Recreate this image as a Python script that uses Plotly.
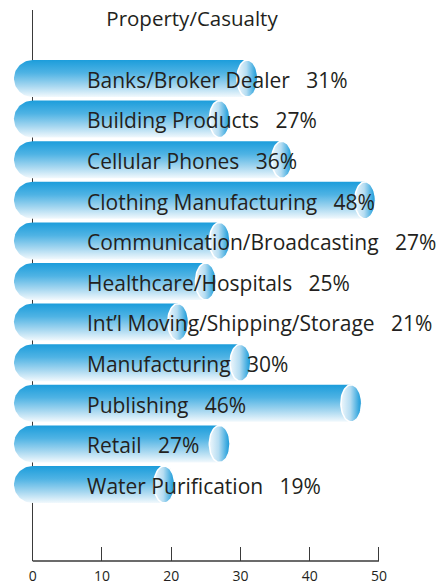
import numpy as np
import plotly.graph_objects as go

# data (top to bottom)
industries = ["Banks/Broker Dealer", "Building Products", "Cellular Phones",
              "Clothing Manufacturing", "Communication/Broadcasting",
              "Healthcare/Hospitals", "Int\u2019l Moving/Shipping/Storage",
              "Manufacturing", "Publishing", "Retail", "Water Purification"]
percents = [31, 27, 36, 48, 27, 25, 21, 30, 46, 27, 19]
tick_vals = [0, 10, 20, 30, 40, 50]
chart_title = "Property/Casualty"

# look of the tubes
H = 0.456        # half height of a tube (y units)
LEFT_R = 2.7     # radius of rounded left end (x units)
CAP_R = 1.5      # half width of the end ellipse (x units)
TXT = "#231f20"
BODY_SCALE = [[0, "#1c9ddb"], [0.35, "#4fb3e4"], [0.7, "#a6d7f0"], [1, "#f2f9fd"]]
CAP_SCALE = [[0, "#eef7fc"], [0.45, "#b6ddf2"], [0.85, "#3aa9df"], [1, "#1a97d5"]]

fig = go.Figure()

for i, (name, v) in enumerate(zip(industries, percents)):
    y = i
    # body: rounded left end + straight run to the value
    t = np.linspace(np.pi / 2, 3 * np.pi / 2, 40)
    bx = list(LEFT_R * np.cos(t)) + [v, v]
    by = list(y - H * np.sin(t)) + [y + H, y - H]
    bx.append(bx[0])
    by.append(by[0])
    fig.add_trace(go.Scatter(
        x=bx, y=by, mode="lines", fill="toself", line=dict(width=0),
        fillgradient=dict(type="vertical", colorscale=BODY_SCALE,
                          start=y - H, stop=y + H),
        hoverinfo="skip", showlegend=False))
    # end ellipse
    a = np.linspace(0, 2 * np.pi, 60)
    fig.add_trace(go.Scatter(
        x=v + CAP_R * np.cos(a), y=y + H * np.sin(a), mode="lines", fill="toself",
        line=dict(width=1.5, color="white"),
        fillgradient=dict(type="horizontal", colorscale=CAP_SCALE,
                          start=v - CAP_R, stop=v + CAP_R),
        hoverinfo="skip", showlegend=False))
    fig.add_annotation(x=7.55, y=y + 0.03, xref="x", yref="y",
                       text=name + "\u00a0\u00a0\u00a0" + str(v) + "%",
                       showarrow=False, xanchor="left", yanchor="middle",
                       font=dict(family="Open Sans", size=21, color=TXT))

# bottom axis line only from 0 to 50
fig.add_shape(type="line", xref="x", yref="paper", x0=0, x1=50, y0=0, y1=0,
              line=dict(color="#3a3a3a", width=1.4), layer="above")

fig.update_layout(
    width=448, height=584,
    margin=dict(l=0, r=0, t=10, b=23),
    paper_bgcolor="white", plot_bgcolor="white",
    title=dict(text=chart_title, x=0.4286, xanchor="center", y=1 - 19 / 584,
               yanchor="middle", font=dict(family="Open Sans", size=20.5, color=TXT)),
    xaxis=dict(range=[-4.72, 59.97], tickvals=tick_vals, ticks="inside",
               ticklen=14, tickwidth=1.3, tickcolor="#3a3a3a",
               showgrid=False, showline=False,
               zeroline=True, zerolinecolor="#3a3a3a", zerolinewidth=1.4,
               tickfont=dict(family="Open Sans", size=14, color=TXT),
               ticklabelstandoff=5, fixedrange=True),
    yaxis=dict(range=[11.884, -1.687], showticklabels=False, showgrid=False,
               zeroline=False, showline=False, fixedrange=True),
)

# the page has a default body margin; drop it so the chart sits at 0,0
fig.write_html("out.html", config={"displayModeBar": False},
               post_script="document.body.style.margin='0';")
